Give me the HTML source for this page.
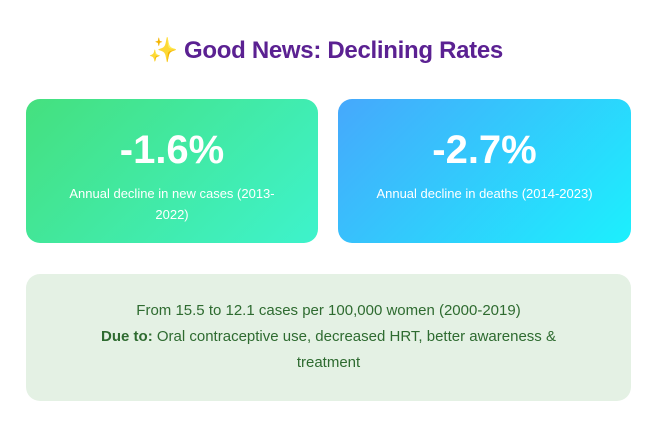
<!DOCTYPE html>
<html><head><meta charset="utf-8"><style>
body{margin:0;width:651px;height:436px;background:#fff;font-family:"Liberation Sans",sans-serif;overflow:hidden;position:relative}
.title{position:absolute;top:36px;left:0;width:651px;text-align:center;font-size:24px;font-weight:bold;color:#5b2192;letter-spacing:-0.3px}
.card{position:absolute;top:99px;height:144px;border-radius:14px;color:#fff;text-align:center}
.big{font-size:40px;font-weight:bold;margin-top:28px;line-height:46px}
.sub{font-size:13px;line-height:21px;margin:10px 30px 0}
.note{position:absolute;left:26px;top:274px;width:605px;height:127px;border-radius:14px;background:#e4f1e4;color:#2e6b30;text-align:center;font-size:15px;line-height:26px}
</style></head><body>
<div class="title">✨ Good News: Declining Rates</div>
<div class="card" style="left:26px;width:292px;background:linear-gradient(135deg,#45e07e,#3ef3cc)">
<div class="big">-1.6%</div>
<div class="sub">Annual decline in new cases (2013-2022)</div></div>
<div class="card" style="left:338px;width:293px;background:linear-gradient(135deg,#46a8fc,#1cf0fd)">
<div class="big">-2.7%</div>
<div class="sub">Annual decline in deaths (2014-2023)</div></div>
<div class="note"><div style="padding:24px 62px 0">From 15.5 to 12.1 cases per 100,000 women (2000-2019)<br><b>Due to:</b> Oral contraceptive use, decreased HRT, better awareness &amp; treatment</div></div>
</body></html>
